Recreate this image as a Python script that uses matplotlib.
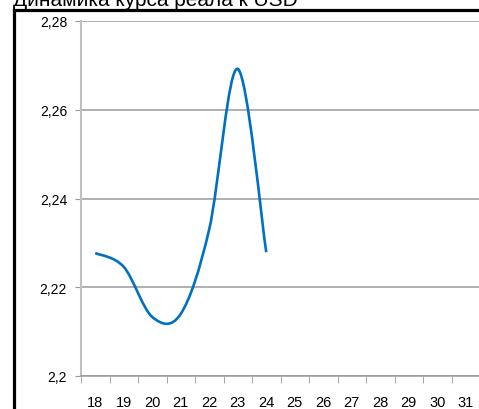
import matplotlib.pyplot as plt
from matplotlib.path import Path
from matplotlib.patches import PathPatch, Rectangle

days = ['18', '19', '20', '21', '22', '23', '24', '25', '26', '27', '28', '29', '30', '31']
rate = [2.2277, 2.2246, 2.2133, 2.2140, 2.2331, 2.2692, 2.2279]
yticks = [2.2, 2.22, 2.24, 2.26, 2.28]
ylabels = ['2,2', '2,22', '2,24', '2,26', '2,28']

plt.rcParams['font.family'] = ['Liberation Sans', 'DejaVu Sans']

fig = plt.figure(figsize=(4.79, 4.10), dpi=100)
ax = fig.add_axes([81 / 479, 1 - 377 / 410, 399 / 479, 355 / 410])

# smoothed line like excel (catmull-rom -> bezier)
pts = list(zip(range(len(rate)), rate))
verts = [pts[0]]
codes = [Path.MOVETO]
for i in range(len(pts) - 1):
    p0 = pts[max(i - 1, 0)]
    p1 = pts[i]
    p2 = pts[i + 1]
    p3 = pts[min(i + 2, len(pts) - 1)]
    c1 = (p1[0] + (p2[0] - p0[0]) / 6, p1[1] + (p2[1] - p0[1]) / 6)
    c2 = (p2[0] - (p3[0] - p1[0]) / 6, p2[1] - (p3[1] - p1[1]) / 6)
    verts += [c1, c2, p2]
    codes += [Path.CURVE4] * 3
ax.add_patch(PathPatch(Path(verts, codes), facecolor='none', edgecolor='#0070C0',
                       lw=1.9, capstyle='butt', zorder=3))

ax.set_xlim(-0.5, len(days) - 0.5)
ax.set_ylim(2.2, 2.28)
ax.set_yticks(yticks)
ax.set_yticklabels(ylabels)
ax.set_xticks(range(len(days)))
ax.set_xticklabels(days)
ax.set_xticks([i - 0.5 for i in range(len(days) + 1)], minor=True)

ax.grid(axis='y', color='#9a9a9a', lw=1.1)
ax.set_axisbelow(True)
for s in ['top', 'right']:
    ax.spines[s].set_visible(False)
ax.spines['left'].set_color('#c0c0c0')
ax.spines['bottom'].set_color('#9a9a9a')
ax.spines['left'].set_linewidth(1.5)
ax.spines['bottom'].set_linewidth(1.1)
ax.tick_params(axis='x', which='major', length=0, pad=14, labelsize=10.5)
ax.tick_params(axis='x', which='minor', length=5, color='#9a9a9a', direction='out')
ax.tick_params(axis='y', length=4, color='#9a9a9a', pad=6, labelsize=10)

# outer frame of the chart box
fig.patches.append(Rectangle((14 / 479, -0.1), 1.2, 1 - 11 / 410 + 0.1,
                             transform=fig.transFigure, fill=False,
                             edgecolor='black', lw=2.3))
fig.text(13 / 479, 1 - 6 / 410, 'Динамика курса реала к USD', fontsize=15,
         va='baseline', ha='left')

plt.savefig('out.png', dpi=100)
